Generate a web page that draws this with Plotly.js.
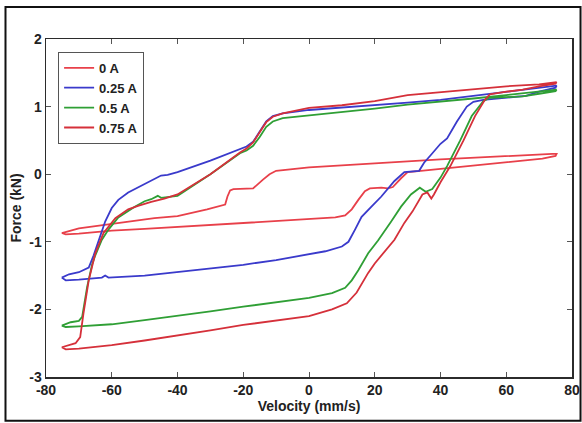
<!DOCTYPE html>
<html>
<head>
<meta charset="utf-8">
<script src="https://cdn.plot.ly/plotly-3.0.1.min.js"></script>
<style>
html,body{margin:0;padding:0;background:#fff;}
#chart{width:582px;height:423px;}
</style>
</head>
<body>
<div id="chart"></div>
<script>
// Legend names
const seriesNames = ["0 A", "0.25 A", "0.5 A", "0.75 A"];

// 0 A loop (lower branch left->right, then upper branch right->left)
const vel0 = [-75.2, -74, -70, -60, -50, -40, -30, -20, -10, 0, 8, 11, 13, 15, 17, 18.5, 22, 24, 25.5, 28, 30, 34, 40, 50, 60, 68, 71, 75, 75.3, 74, 60, 40, 20, 0, -10, -12, -14, -17, -23, -24, -24.8, -25.5, -31, -40, -47, -60, -70, -75.2];
const force0 = [-0.87, -0.89, -0.88, -0.835, -0.81, -0.78, -0.75, -0.72, -0.695, -0.67, -0.64, -0.61, -0.52, -0.38, -0.25, -0.21, -0.2, -0.21, -0.19, -0.06, 0.03, 0.05, 0.08, 0.13, 0.17, 0.21, 0.23, 0.27, 0.3, 0.3, 0.27, 0.22, 0.16, 0.1, 0.05, 0.0, -0.08, -0.21, -0.22, -0.24, -0.33, -0.45, -0.52, -0.62, -0.65, -0.73, -0.8, -0.87];

// 0.25 A loop
const vel25 = [-75.2, -74, -70, -63, -62, -61, -50, -40, -30, -20, -10, 0, 5, 10, 12, 14, 16, 19, 22, 26, 29, 33.5, 35, 37, 40, 42, 45, 48, 50, 53, 60, 66, 70, 75, 75.3, 70, 60, 50, 40, 30, 20, 10, 0, -8, -11, -13, -15, -17, -19, -21, -30, -40, -43, -45, -50, -55, -58, -60, -62, -64, -65.5, -67, -70, -73, -75.2];
const force25 = [-1.53, -1.57, -1.56, -1.53, -1.5, -1.53, -1.5, -1.45, -1.4, -1.34, -1.27, -1.19, -1.14, -1.07, -1.0, -0.82, -0.63, -0.48, -0.33, -0.1, 0.03, 0.05, 0.17, 0.28, 0.45, 0.53, 0.78, 1.0, 1.07, 1.1, 1.13, 1.16, 1.22, 1.28, 1.31, 1.28, 1.22, 1.16, 1.1, 1.06, 1.02, 0.98, 0.95, 0.9, 0.86, 0.78, 0.62, 0.48, 0.41, 0.37, 0.2, 0.03, -0.01, -0.02, -0.15, -0.27, -0.38, -0.5, -0.7, -1.0, -1.2, -1.38, -1.45, -1.48, -1.53];

// 0.5 A loop
const vel50 = [-75.2, -74, -70, -60, -50, -40, -30, -20, -10, 0, 7, 11, 13, 15, 18, 21, 25, 28, 31, 33.7, 35.5, 37.5, 40, 42, 46, 49.5, 53, 55, 60, 65, 70, 75, 75.3, 70, 60, 50, 40, 30, 20, 10, 0, -8, -11, -13, -15, -17, -19, -21, -30, -40, -45, -46, -48, -50, -53, -56, -58, -61, -63, -65, -66, -67.5, -69, -70, -72.5, -75.2];
const force50 = [-2.24, -2.26, -2.25, -2.22, -2.16, -2.1, -2.03, -1.96, -1.9, -1.83, -1.76, -1.68, -1.57, -1.42, -1.17, -0.98, -0.7, -0.48, -0.3, -0.2, -0.26, -0.22, -0.05, 0.12, 0.5, 0.86, 1.08, 1.13, 1.14, 1.15, 1.19, 1.23, 1.25, 1.22, 1.17, 1.12, 1.08, 1.03, 0.97, 0.92, 0.88, 0.83, 0.78, 0.7, 0.55, 0.42, 0.35, 0.31, 0.0, -0.32, -0.35, -0.32, -0.37, -0.4, -0.48, -0.58, -0.64, -0.82, -0.97, -1.2, -1.34, -1.67, -2.11, -2.17, -2.19, -2.24];

// 0.75 A loop
const vel75 = [-75.2, -74, -70, -60, -50, -40, -30, -20, -10, 0, 7, 11.5, 14.5, 18, 20, 23, 26, 29, 31.5, 34.5, 36, 37.2, 38, 40, 43, 47, 50.5, 53.5, 55, 60, 65, 70, 75, 75.3, 70, 60, 50, 40, 30, 20, 10, 0, -8, -11, -13, -15, -17, -19, -21, -30, -40, -44, -46, -48, -52, -55, -58.9, -61, -62.5, -65, -67, -68.6, -69.6, -71, -75.2];
const force75 = [-2.56, -2.59, -2.58, -2.53, -2.46, -2.39, -2.31, -2.23, -2.16, -2.1, -2.0, -1.91, -1.75, -1.46, -1.32, -1.15, -0.97, -0.72, -0.55, -0.3, -0.27, -0.36, -0.3, -0.12, 0.12, 0.5, 0.86, 1.1, 1.18, 1.22, 1.25, 1.3, 1.34, 1.36, 1.33, 1.3, 1.26, 1.22, 1.17, 1.08, 1.02, 0.98, 0.9, 0.85, 0.77, 0.62, 0.47, 0.38, 0.32, 0.0, -0.3, -0.36, -0.38, -0.41, -0.47, -0.52, -0.65, -0.77, -0.87, -1.17, -1.57, -2.06, -2.41, -2.5, -2.56];

const xTicks = [-80, -60, -40, -20, 0, 20, 40, 60, 80];
const yTicks = [-3, -2, -1, 0, 1, 2];

const colors = ["#e8404a", "#3a3acb", "#2f9f35", "#d5303a"];
const xs = [vel0, vel25, vel50, vel75];
const ys = [force0, force25, force50, force75];

const traces = seriesNames.map((n, i) => ({
  type: "scatter", mode: "lines", name: n,
  x: xs[i], y: ys[i],
  line: {color: colors[i], width: 1.8}
}));

const fam = "'Liberation Sans Narrow', 'Liberation Sans', Arial, sans-serif";
const axisCommon = {
  showline: true, mirror: "ticks", linecolor: "#2b2b2b", linewidth: 1.5,
  ticks: "inside", ticklen: 5, tickcolor: "#555", tickwidth: 1,
  showgrid: false, zeroline: false,
  tickfont: {family: fam, size: 14, color: "#222", weight: "bold"}
};

const layout = {
  width: 582, height: 423,
  margin: {l: 46, r: 10, t: 39, b: 46},
  paper_bgcolor: "#fff", plot_bgcolor: "#fff",
  showlegend: true,
  legend: {
    x: 0.023, y: 0.962, xanchor: "left", yanchor: "top",
    bgcolor: "#fff", bordercolor: "#555", borderwidth: 1,
    font: {family: fam, size: 13, color: "#222", weight: "bold"},
    tracegroupgap: 0, itemwidth: 30
  },
  xaxis: Object.assign({}, axisCommon, {
    range: [-80, 80], tickvals: xTicks, ticktext: xTicks.map(String),
    title: {text: "Velocity (mm/s)", standoff: 1, font: {family: fam, size: 14, color: "#222", weight: "bold"}}
  }),
  yaxis: Object.assign({}, axisCommon, {
    range: [-3, 2], tickvals: yTicks, ticktext: yTicks.map(String),
    title: {text: "Force (kN)", standoff: 4, font: {family: fam, size: 14, color: "#222", weight: "bold"}}
  }),
  shapes: [{
    type: "rect", xref: "paper", yref: "paper",
    x0: -0.0770, x1: 1.0162, y0: -0.1296, y1: 1.0947,
    line: {color: "#111", width: 2}, fillcolor: "rgba(0,0,0,0)"
  }]
};

Plotly.newPlot("chart", traces, layout, {displayModeBar: false, staticPlot: true});
</script>
</body>
</html>
